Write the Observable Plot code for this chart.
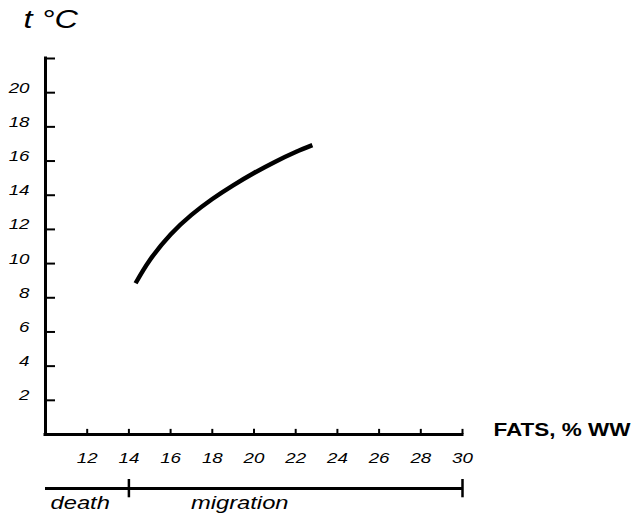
<!DOCTYPE html>
<html>
<head>
<meta charset="utf-8">
<script src="https://cdn.jsdelivr.net/npm/d3@7"></script>
<script src="https://cdn.jsdelivr.net/npm/@observablehq/plot@0.6"></script>
<style>
  html, body { margin: 0; padding: 0; background: #fff; }
  svg { display: block; }
</style>
</head>
<body>
<div id="chart"></div>
<script>
// ---- data ----
const fats = [14.32, 15.0, 16.0, 17.0, 18.0, 19.0, 20.0, 21.0, 22.0, 22.8];
const temps = [8.85, 10.2, 11.7, 12.85, 13.78, 14.58, 15.3, 15.95, 16.53, 16.93];
const xTicks = [12, 14, 16, 18, 20, 22, 24, 26, 28, 30];
const yTicks = [2, 4, 6, 8, 10, 12, 14, 16, 18, 20, 22];
const yLabels = [2, 4, 6, 8, 10, 12, 14, 16, 18, 20];
const phaseNames = ["death", "migration"];
const phaseStart = [10, 14];
const phaseEnd = [14, 30];
const xTitle = "FATS, % WW";
const yTitle = "t °C";

const curve = fats.map((x, i) => ({x, y: temps[i]}));
const phases = phaseNames.map((name, i) => ({name, from: phaseStart[i], to: phaseEnd[i]}));
const xMin = 10, xMax = 30, yMin = 0, yMax = 22;

const font = "Liberation Sans, Arial, sans-serif";

const chart = Plot.plot({
  width: 636,
  height: 515,
  marginLeft: 45,
  marginRight: 174,
  marginTop: 58,
  marginBottom: 81,
  x: {domain: [xMin, xMax], axis: null},
  y: {domain: [yMin, yMax], axis: null},
  style: {fontFamily: font, background: "#fff", color: "#000"},
  marks: [
    // y axis ticks (inward)
    Plot.ruleY(yTicks, {x1: xMin, x2: xMin + 0.48, stroke: "#000", strokeWidth: 2}),
    // x axis ticks (inward)
    Plot.ruleX(xTicks, {y1: yMin, y2: yMin + 0.3, stroke: "#000", strokeWidth: 2}),
    // axis lines
    Plot.ruleX([xMin], {y1: yMin, y2: yMax, stroke: "#000", strokeWidth: 3, strokeLinecap: "square"}),
    Plot.ruleY([yMin], {x1: xMin, x2: xMax, stroke: "#000", strokeWidth: 3, strokeLinecap: "square"}),
    // tick labels
    Plot.text(yLabels, {x: xMin, y: d => d, text: d => String(d), dx: -16, textAnchor: "end",
      fontStyle: "italic", fontSize: 15, fill: "#000"}),
    Plot.text(xTicks, {x: d => d, y: yMin, text: d => String(d), dy: 28,
      fontStyle: "italic", fontSize: 15, fill: "#000"}),
    // curve
    Plot.line(curve, {x: "x", y: "y", curve: "natural", stroke: "#000", strokeWidth: 4.5, strokeLinecap: "butt"}),
    // phases bar below axis
    Plot.ruleY(phases, {x1: "from", x2: "to", y: () => yMin, dy: 54, stroke: "#000", strokeWidth: 3}),
    Plot.ruleX(phaseEnd, {x: d => d, y1: yMin, y2: yMin - 1.07, dy: 45, stroke: "#000", strokeWidth: 2.5}),
    Plot.text(phases.filter(p => p.name === "death"), {x: "from", y: () => yMin, text: "name", dx: 5, dy: 74,
      textAnchor: "start", fontStyle: "italic", fontSize: 19, fill: "#000"}),
    Plot.text(phases.filter(p => p.name === "migration"), {x: "from", y: () => yMin, text: "name", dx: 62, dy: 74,
      textAnchor: "start", fontStyle: "italic", fontSize: 19, fill: "#000"}),
    // axis titles
    Plot.text([xTitle], {x: xMax, y: yMin, text: d => d, dx: 31, dy: 1, textAnchor: "start",
      fontWeight: "bold", fontSize: 18, fill: "#000"}),
    Plot.text([yTitle], {x: xMin, y: yMax, text: d => d, dx: -22, dy: -31, textAnchor: "start",
      fontStyle: "italic", fontSize: 26, fill: "#000"})
  ]
});

// the reference appears horizontally stretched: widen the glyphs around their anchors
const sx = 1.25;
chart.querySelectorAll("text").forEach(t => {
  const tr = t.getAttribute("transform") || "";
  const x = +t.getAttribute("x") || 0, y = +t.getAttribute("y") || 0;
  t.setAttribute("transform", `${tr} translate(${x},${y}) scale(${sx},1)`);
  t.removeAttribute("x"); t.removeAttribute("y");
});

document.getElementById("chart").appendChild(chart);
</script>
</body>
</html>
